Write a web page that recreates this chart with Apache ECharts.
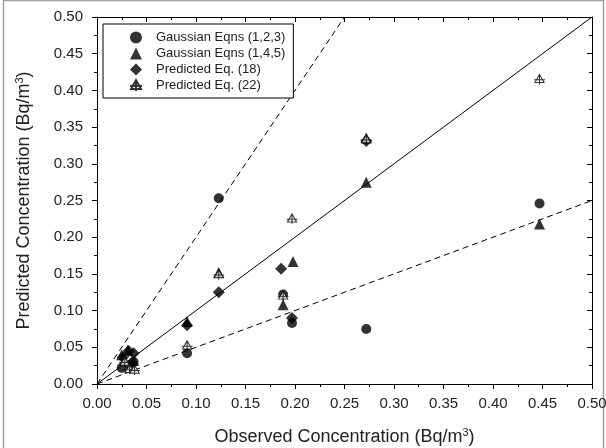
<!DOCTYPE html>
<html><head><meta charset="utf-8">
<script src="https://cdn.jsdelivr.net/npm/echarts@6/dist/echarts.min.js"></script>
<style>html,body{margin:0;padding:0;background:#fff}#c{width:606px;height:448px}</style>
</head><body><div id="c"></div>
<script>
// Series data [observed, predicted]
const gauss123 = [[0.025,0.022],[0.033,0.026],[0.037,0.030],[0.091,0.042],[0.123,0.253],[0.188,0.122],[0.197,0.083],[0.272,0.075],[0.447,0.246]];
const gauss145 = [[0.025,0.040],[0.031,0.046],[0.037,0.032],[0.091,0.085],[0.123,0.152],[0.188,0.108],[0.198,0.167],[0.272,0.275],[0.272,0.335],[0.447,0.218]];
const pred18 = [[0.026,0.036],[0.032,0.045],[0.037,0.042],[0.091,0.080],[0.123,0.125],[0.186,0.157],[0.197,0.090],[0.272,0.331]];
const pred22 = [[0.028,0.030],[0.033,0.020],[0.038,0.019],[0.091,0.052],[0.123,0.149],[0.188,0.120],[0.197,0.225],[0.272,0.333],[0.447,0.415]];
const seriesNames = ['Gaussian Eqns (1,2,3)','Gaussian Eqns (1,4,5)','Predicted Eq. (18)','Predicted Eq. (22)'];
const refSlopes = [1, 2, 0.5];
const refStyles = ['solid','dashed','dashed'];
const axisMax = 0.5;
const tickLabels = ['0.00','0.05','0.10','0.15','0.20','0.25','0.30','0.35','0.40','0.45','0.50'];

const crossTri = 'path://M5,0 L10,9 L0,9 Z M5,0 L5,11 M-1,6 L11,6';
const font = 'Liberation Sans';

function refLine(k){
  const xEnd = Math.min(axisMax, axisMax / k);
  return [[0,0],[xEnd, k*xEnd]];
}

const chart = echarts.init(document.getElementById('c'));
const axCommon = {
  type:'value', min:0, max:axisMax, interval:0.05,
  splitLine:{show:false},
  axisLine:{show:true, onZero:false, lineStyle:{color:'#000', width:1}},
};
const titleRich = {a:{fontFamily:font,fontSize:18,color:'#222'}, s:{fontFamily:font,fontSize:11,color:'#222',verticalAlign:'top',padding:[0,0,10,0]}};
const lineSeries = refSlopes.map((k,i)=>({
  type:'line', data: refLine(k), symbol:'none', silent:true,
  lineStyle:{color:'#000', width:1, type: refStyles[i]==='dashed'?[6,4]:'solid'},
  z:1
}));
chart.setOption({
  animation:false,
  textStyle:{fontFamily:font},
  grid:{left:97, right:14, top:17, bottom:64, containLabel:false, outerBoundsMode:'none'},
  graphic:[{type:'rect', shape:{x:3.5,y:0.5,width:600,height:470}, style:{fill:'none', stroke:'#a0a0a0', lineWidth:1.5}, silent:true}],
  legend:{
    data: seriesNames, orient:'vertical', left:103, top:24,
    backgroundColor:'#fff', borderColor:'#000', borderWidth:1,
    padding:[7,8,6,26], itemGap:3, itemWidth:12, itemHeight:12,
    textStyle:{fontFamily:font, fontSize:13, color:'#222', padding:[0,0,0,9]}
  },
  xAxis:[
    Object.assign({}, axCommon, {
      position:'bottom',
      name:'{a|Observed Concentration (Bq/m}{s|3}{a|)}', nameLocation:'middle', nameGap:43,
      nameTextStyle:{rich:titleRich},
      axisTick:{show:true, inside:false, length:5, lineStyle:{color:'#000'}},
      minorTick:{show:true, splitNumber:2, length:3, lineStyle:{color:'#000'}},
      axisLabel:{fontFamily:font, fontSize:15, color:'#222', margin:12, formatter:(v)=>tickLabels[Math.round(v/0.05)]}
    }),
    Object.assign({}, axCommon, {
      position:'top',
      axisTick:{show:true, inside:true, length:5, lineStyle:{color:'#000'}},
      minorTick:{show:true, splitNumber:2, length:3, lineStyle:{color:'#000'}},
      axisLabel:{show:false}
    })
  ],
  yAxis:[
    Object.assign({}, axCommon, {
      position:'left',
      name:'{a|Predicted Concentration (Bq/m}{s|3}{a|)}', nameLocation:'middle', nameGap:62,
      nameTextStyle:{rich:titleRich},
      axisTick:{show:true, inside:false, length:5, lineStyle:{color:'#000'}},
      minorTick:{show:true, splitNumber:2, length:3, lineStyle:{color:'#000'}},
      axisLabel:{fontFamily:font, fontSize:15, color:'#222', margin:14, formatter:(v)=>tickLabels[Math.round(v/0.05)]}
    }),
    Object.assign({}, axCommon, {
      position:'right',
      axisTick:{show:true, inside:true, length:5, lineStyle:{color:'#000'}},
      minorTick:{show:true, splitNumber:2, length:3, lineStyle:{color:'#000'}},
      axisLabel:{show:false}
    })
  ],
  series: lineSeries.concat([
    {name:seriesNames[0], type:'scatter', data:gauss123, symbol:'circle', symbolSize:10, itemStyle:{color:'#000'}, z:3},
    {name:seriesNames[1], type:'scatter', data:gauss145, symbol:'triangle', symbolSize:11, itemStyle:{color:'#000'}, z:3},
    {name:seriesNames[2], type:'scatter', data:pred18, symbol:'diamond', symbolSize:12, itemStyle:{color:'#000'}, z:3},
    {name:seriesNames[3], type:'scatter', data:pred22, symbol:crossTri, symbolSize:[11,10], itemStyle:{color:'#fff', borderColor:'#000', borderWidth:1}, z:4}
  ])
});
</script></body></html>
